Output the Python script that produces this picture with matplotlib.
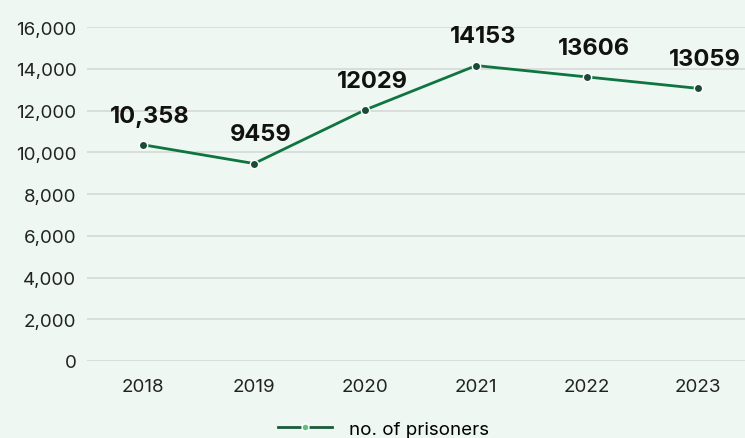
import matplotlib.pyplot as plt
from matplotlib.lines import Line2D
from matplotlib.ticker import FuncFormatter

years = ['2018', '2019', '2020', '2021', '2022', '2023']
prisoners = [10358, 9459, 12029, 14153, 13606, 13059]
labels = ['10,358', '9459', '12029', '14153', '13606', '13059']

plt.rcParams['font.family'] = ['Inter', 'DejaVu Sans']

bg = '#eef7f2'
fig = plt.figure(figsize=(7.45, 4.39), dpi=100, facecolor=bg)
ax = fig.add_axes([0.1174, 0.1754, 0.8826, 0.7608], facecolor=bg)

x = list(range(len(years)))
ax.plot(x, prisoners, color='#0f7440', linewidth=2, zorder=3)
ax.scatter(x, prisoners, s=36, color='#1b4a37', edgecolor='white', linewidth=1, zorder=4)

for xi, yi, lab in zip(x, prisoners, labels):
    ax.annotate(lab, (xi, yi), xytext=(5, 21), textcoords='offset points',
                ha='center', va='center', fontsize=17, fontweight='bold', color='#111111')

ax.set_xlim(-0.5, 5.42)
ax.set_ylim(0, 16000)
ax.set_yticks(range(0, 16001, 2000))
ax.yaxis.set_major_formatter(FuncFormatter(lambda v, p: f'{int(v):,}'))
ax.set_xticks(x)
ax.set_xticklabels(years)
ax.grid(axis='y', color='#d6d9d7', linewidth=1.2)
ax.set_axisbelow(True)
for s in ax.spines.values():
    s.set_visible(False)
ax.tick_params(length=0, labelsize=13.5, colors='#222222')
ax.tick_params(axis='x', pad=12)
ax.tick_params(axis='y', pad=8)

# legend sits at the very bottom edge, as in the source
handle = Line2D([0], [0], color='#1b5a3c', linewidth=2, marker='o', markersize=5,
                markerfacecolor='#5cc27d', markeredgecolor='white')
fig.legend([handle], ['no. of prisoners'], loc='center', bbox_to_anchor=(0.515, 0.02),
           frameon=False, fontsize=13.5, handlelength=2.9, handletextpad=0.9)

fig.savefig('out.png', dpi=100, facecolor=bg)
